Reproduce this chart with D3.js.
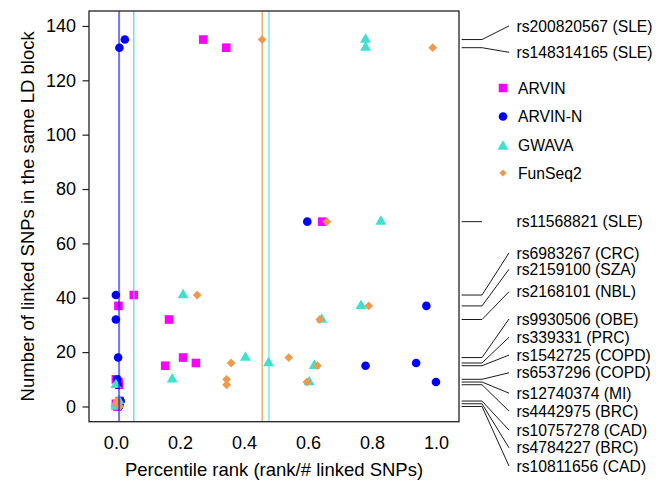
<!DOCTYPE html>
<html>
<head>
<meta charset="utf-8">
<script src="https://cdn.jsdelivr.net/npm/d3@7"></script>
<style>
    body { margin: 0; background: #fff; }
    #chart-area text { font-family: "Liberation Sans", Arial, Helvetica, sans-serif; fill: #000; }
</style>
</head>
<body>
<div id="chart-area"></div>
<script>
// SNPs, in label order (top to bottom)
const snpNames = [
    "rs200820567 (SLE)", "rs148314165 (SLE)", "rs11568821 (SLE)",
    "rs6983267 (CRC)", "rs2159100 (SZA)", "rs2168101 (NBL)",
    "rs9930506 (OBE)", "rs339331 (PRC)", "rs1542725 (COPD)",
    "rs6537296 (COPD)", "rs12740374 (MI)", "rs4442975 (BRC)",
    "rs10757278 (CAD)", "rs4784227 (BRC)", "rs10811656 (CAD)"
];
// number of linked SNPs in the same LD block
const linkedCounts = [135, 132, 68, 41, 37, 32, 18, 16, 15, 10, 9, 8, 2, 1, 0];

// percentile rank (rank / # linked SNPs) for each method
const arvinRank   = [0.273, 0.345, 0.645, 0.056, 0.008, 0.166, 0.210, 0.250, 0.154, 0.000, 0.008, 0.010, 0.012, 0.000, 0.004];
const arvinNRank  = [0.028, 0.011, 0.598, 0.000, 0.970, 0.000, 0.007, 0.938, 0.780, 0.004, 1.000, 0.006, 0.015, 0.012, 0.010];
const gwavaRank   = [0.780, 0.780, 0.828, 0.210, 0.766, 0.643, 0.405, 0.477, 0.620, 0.176, 0.604, 0.000, 0.010, 0.000, 0.000];
const funseqRank  = [0.457, 0.990, 0.659, 0.254, 0.790, 0.637, 0.540, 0.360, 0.630, 0.346, 0.597, 0.346, 0.004, 0.000, 0.012];

const methods = ["ARVIN", "ARVIN-N", "GWAVA", "FunSeq2"];

// vertical reference lines
const refLineX      = [0.010, 0.056, 0.457, 0.478];
const refLineMethod = ["ARVIN-N", "GWAVA", "FunSeq2", "GWAVA"];

const xTicks = [0, 0.2, 0.4, 0.6, 0.8, 1.0];
const yTicks = [0, 20, 40, 60, 80, 100, 120, 140];

class RankVis {
    constructor(_parentElement) {
        this.parentElement = _parentElement;
        this.initVis();
    }

    initVis() {
        let vis = this;

        vis.width = 670;
        vis.height = 481;
        vis.plot = { left: 89, right: 459, top: 11, bottom: 421.7 };

        vis.svg = d3
            .select(`#${vis.parentElement}`)
            .append("svg")
            .attr("width", vis.width)
            .attr("height", vis.height);

        vis.x = d3.scaleLinear()
            .domain([-0.084, 1.072])
            .range([vis.plot.left, vis.plot.right]);
        vis.y = d3.scaleLinear()
            .domain([-5.6, 145.5])
            .range([vis.plot.bottom, vis.plot.top]);

        vis.color = d3.scaleOrdinal()
            .domain(methods)
            .range(["#ff00ff", "#0000ff", "#40e0d0", "#ee9a49"]);

        // where the right-hand labels sit (in y units)
        vis.labelAt = [140, 130.3, 68, 56.5, 50.5, 42.2, 32.2, 25.5, 18.9, 12.4, 4.9, -1.7, -8.7, -15.2, -21.9];

        vis.wrangleData();
    }

    shape(method, small) {
        if (method === "ARVIN") return "M-4.3,-4.3h8.6v8.6h-8.6Z";
        if (method === "ARVIN-N") return d3.symbol().type(d3.symbolCircle).size(Math.PI * 4.3 * 4.3)();
        if (method === "GWAVA") return "M0,-6.35L5.5,3.18L-5.5,3.18Z";
        let h = small ? 3.6 : 4.4;
        return `M0,${-h}L${h},0L0,${h}L${-h},0Z`;
    }

    wrangleData() {
        let vis = this;
        const ranks = [arvinRank, arvinNRank, gwavaRank, funseqRank];

        vis.points = [];
        methods.forEach((m, mi) => {
            snpNames.forEach((s, i) => {
                vis.points.push({ method: m, snp: s, rank: ranks[mi][i], count: linkedCounts[i] });
            });
        });

        vis.updateVis();
    }

    updateVis() {
        let vis = this;

        // points
        vis.svg.append("g")
            .selectAll("path")
            .data(vis.points)
            .enter()
            .append("path")
            .attr("d", (d) => vis.shape(d.method))
            .attr("fill", (d) => vis.color(d.method))
            .attr("transform", (d) => `translate(${vis.x(d.rank)},${vis.y(d.count)})`);

        // reference lines
        const lineStyle = [
            { w: 2, o: 0.55 },
            { w: 1.2, o: 1 },
            { w: 1.2, o: 1 },
            { w: 2.2, o: 0.5 }
        ];
        vis.svg.append("g")
            .selectAll("line")
            .data(refLineX)
            .enter()
            .append("line")
            .attr("x1", (d) => vis.x(d))
            .attr("x2", (d) => vis.x(d))
            .attr("y1", vis.plot.top)
            .attr("y2", vis.plot.bottom)
            .attr("stroke", (d, i) => vis.color(refLineMethod[i]))
            .attr("stroke-width", (d, i) => lineStyle[i].w)
            .attr("stroke-opacity", (d, i) => lineStyle[i].o);

        // box
        vis.svg.append("rect")
            .attr("x", vis.plot.left)
            .attr("y", vis.plot.top)
            .attr("width", vis.plot.right - vis.plot.left)
            .attr("height", vis.plot.bottom - vis.plot.top)
            .attr("fill", "none")
            .attr("stroke", "#222")
            .attr("stroke-width", 1.3);

        // axes
        let yAxis = vis.svg.append("g")
            .attr("transform", `translate(${vis.plot.left},0)`)
            .call(d3.axisLeft(vis.y).tickValues(yTicks).tickSize(6.5).tickPadding(6.5).tickFormat(d3.format("d")));
        yAxis.select(".domain").remove();
        yAxis.selectAll("text").style("font-size", "18px");
        yAxis.selectAll("line").attr("stroke", "#222").attr("stroke-width", 1.2);

        let xAxis = vis.svg.append("g")
            .attr("transform", `translate(0,${vis.plot.bottom})`)
            .call(d3.axisBottom(vis.x).tickValues(xTicks).tickSize(0).tickPadding(15).tickFormat(d3.format(".1f")));
        xAxis.select(".domain").remove();
        xAxis.selectAll("text").style("font-size", "18px");

        // axis titles
        vis.svg.append("text")
            .attr("x", (vis.plot.left + vis.plot.right) / 2)
            .attr("y", 476)
            .attr("text-anchor", "middle")
            .style("font-size", "18.5px")
            .text("Percentile rank (rank/# linked SNPs)");

        vis.svg.append("text")
            .attr("transform", `translate(34,${(vis.plot.top + vis.plot.bottom) / 2}) rotate(-90)`)
            .attr("text-anchor", "middle")
            .style("font-size", "18.5px")
            .text("Number of linked SNPs in the same LD block");

        // leader lines + SNP labels
        let labels = vis.svg.append("g");
        snpNames.forEach((s, i) => {
            let y0 = vis.y(linkedCounts[i]);
            let y1 = vis.y(vis.labelAt[i]);
            labels.append("line")
                .attr("x1", 461.7).attr("x2", 482)
                .attr("y1", y0).attr("y2", y0)
                .attr("stroke", "#000").attr("stroke-width", 0.9);
            if (Math.abs(y1 - y0) > 1.5) {
                labels.append("line")
                    .attr("x1", 482).attr("x2", 509)
                    .attr("y1", y0).attr("y2", y1)
                    .attr("stroke", "#000").attr("stroke-width", 0.9);
            }
            labels.append("text")
                .attr("x", 516.5)
                .attr("y", y1 + 5.6)
                .style("font-size", "15.7px")
                .text(s);
        });

        // legend
        const legendY = [88, 116.5, 145, 173];
        let legend = vis.svg.append("g");
        methods.forEach((m, i) => {
            legend.append("path")
                .attr("d", vis.shape(m, true))
                .attr("fill", vis.color(m))
                .attr("transform", `translate(503,${legendY[i] + (m === "GWAVA" ? 1.5 : 0)})`);
            legend.append("text")
                .attr("x", 518)
                .attr("y", legendY[i] + 5.6)
                .style("font-size", "15.7px")
                .text(m);
        });
    }
}

new RankVis("chart-area");
</script>
</body>
</html>
